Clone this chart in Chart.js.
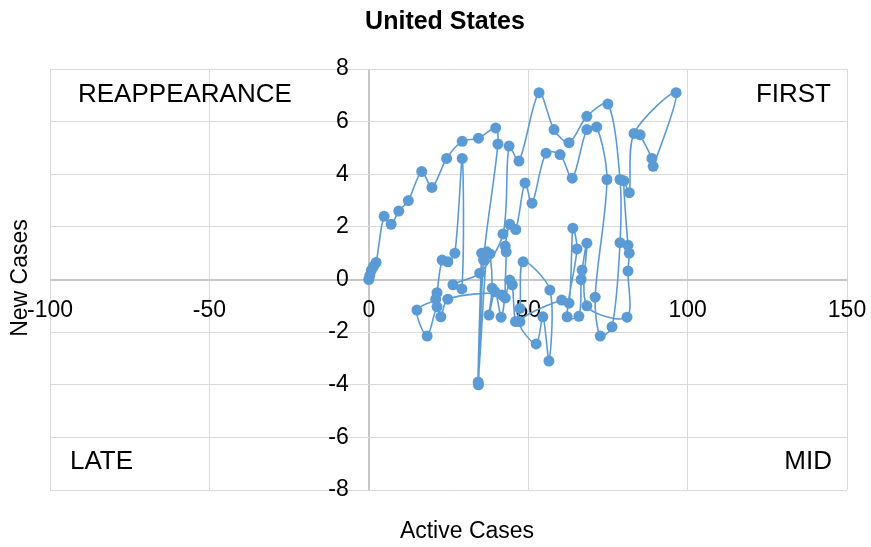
<!DOCTYPE html>
<html>
<head>
<meta charset="utf-8">
<title>United States</title>
<script src="https://cdn.jsdelivr.net/npm/chart.js@4.4.0/dist/chart.umd.min.js"></script>
<style>
  html, body { margin: 0; padding: 0; background: #fff; }
  #wrap { width: 871px; height: 547px; position: relative; }
</style>
</head>
<body>
<div id="wrap"><canvas id="chart"></canvas></div>
<script>
// trajectory, in the order the points are joined
const activeCases = [
  0, 0.3, 0.8, 1.5, 2.3, 4.8, 7, 9.4, 12.4, 16.6, 19.8, 24.4, 29.3, 34.4, 39.8, 40.5,
  36, 34.4, 35.4, 34.3, 37, 38, 38.7, 37.7, 39.6, 41.5, 41.8,
  24.8, 22.6, 21.4, 18.3, 15.1, 21, 21.4, 23, 24.8, 27, 29.3, 29.2, 26.4, 34.8,
  42.1, 44, 47.1, 53.4, 58.1, 62.8, 68.4, 75, 78.8, 78.8, 76.3, 72.6, 71, 74.7, 71.5, 68.4,
  63.8, 60, 55.6, 51.2, 49, 46.1, 44.2, 42.8, 43.1, 42.8, 44.2, 45, 46, 47.4, 48.4,
  56.8, 56.5, 54.6, 52.5, 47.4, 60.5, 62.8, 64, 65.3, 62.2, 65.9, 66.6, 66.9, 68.4, 68.4,
  81, 81.3, 81.7, 81.3, 80, 81.7, 83.2, 96.4, 89.2, 88.8, 85.1
];
const newCases = [
  0, 0.15, 0.35, 0.5, 0.65, 2.4, 2.1, 2.6, 3.0, 4.1, 3.5, 4.6, 5.25, 5.37, 5.76, 5.15,
  0.74, -4.0, 1.0, -3.9, 1.05, 0.97, -0.33, -1.35, -0.47, -1.43, -0.59,
  -0.75, -1.42, -1.04, -2.15, -1.16, -0.75, -0.5, 0.74, 0.67, 1.0, 4.6, -0.36, -0.2, 0.24,
  1.73, 5.07, 4.5, 7.1, 5.7, 5.2, 6.2, 6.67, 3.8, 1.4, -1.8, -2.15, -0.67, 3.8, 5.8, 5.7,
  3.85, 4.75, 4.8, 2.9, 3.67, 1.9, 2.1, 1.27, 1.05, -0.7, -0.02, -0.2, -1.6, -1.1, 0.67,
  -0.4, -3.1, -1.42, -2.45, -1.6, -0.78, -0.9, 1.95, 1.16, -1.42, -1.4, 0.0, 0.36, 1.38, -1.0,
  -1.43, 0.32, 1.0, 1.3, 3.75, 3.3, 5.55, 7.1, 4.3, 4.6, 5.5
];

const xTicks = [-100, -50, 0, 50, 100, 150];
const yTicks = [-8, -6, -4, -2, 0, 2, 4, 6, 8];

const quadrantLabels = ['REAPPEARANCE', 'FIRST', 'LATE', 'MID'];

const blue = '#5B9BD5';
const font = "'Liberation Sans', Arial, sans-serif";
const gridGrey = '#D9D9D9';
const axisGrey = '#C6C6C6';

const points = activeCases.map((x, i) => ({ x: x, y: newCases[i] }));

// texts Excel keeps as separate boxes
const textPlugin = {
  id: 'texts',
  afterDraw(chart) {
    const ctx = chart.ctx;
    const a = chart.chartArea;
    ctx.save();
    ctx.fillStyle = '#000';
    ctx.textBaseline = 'middle';

    ctx.font = "bold 25px " + font;
    ctx.textAlign = 'center';
    ctx.fillText('United States', 445, 22);

    ctx.font = "23px " + font;
    ctx.fillText('Active Cases', 467, 532);
    ctx.save();
    ctx.translate(21, 278);
    ctx.rotate(-Math.PI / 2);
    ctx.fillText('New Cases', 0, 0);
    ctx.restore();

    ctx.font = "26px " + font;
    ctx.textAlign = 'left';
    ctx.fillText(quadrantLabels[0], a.left + 28, 95);
    ctx.fillText(quadrantLabels[2], a.left + 20, 462);
    ctx.textAlign = 'right';
    ctx.fillText(quadrantLabels[1], a.right - 16, 95);
    ctx.fillText(quadrantLabels[3], a.right - 15, 462);
    ctx.restore();
  }
};

// the 0 lines of both axes are drawn a bit darker
const gridColor = (c) => c.tick && c.tick.value === 0 ? axisGrey : gridGrey;
const gridWidth = (c) => c.tick && c.tick.value === 0 ? 2 : 1;

const ctx = document.getElementById('chart').getContext('2d');
Chart.defaults.font.family = font;
Chart.defaults.color = '#000';

new Chart(ctx, {
  type: 'scatter',
  data: {
    datasets: [{
      label: 'United States',
      data: points,
      showLine: true,
      tension: 0.3,
      borderColor: blue,
      borderWidth: 1.6,
      backgroundColor: blue,
      pointBackgroundColor: blue,
      pointBorderColor: blue,
      pointRadius: 5.5,
      pointBorderWidth: 0
    }]
  },
  options: {
    responsive: true,
    maintainAspectRatio: false,
    animation: false,
    layout: {
      padding: { left: 50, right: 24, top: 69, bottom: 57 }
    },
    scales: {
      x: {
        type: 'linear',
        // labels sit a little under the 0 line
        position: { y: -0.5 },
        min: -100,
        max: 150,
        afterFit: (scale) => { scale.height = 0; },
        afterBuildTicks: (scale) => { scale.ticks = xTicks.map(v => ({ value: v })); },
        ticks: { font: { size: 23 }, padding: 4, autoSkip: false, maxRotation: 0 },
        grid: { color: gridColor, lineWidth: gridWidth, drawTicks: false },
        border: { display: false }
      },
      y: {
        type: 'linear',
        // labels sit a little left of the 0 line
        position: { x: -6.3 },
        min: -8,
        max: 8,
        afterFit: (scale) => { scale.width = 0; },
        afterBuildTicks: (scale) => { scale.ticks = yTicks.map(v => ({ value: v })); },
        ticks: { font: { size: 23 }, autoSkip: false },
        grid: { color: gridColor, lineWidth: gridWidth, drawTicks: false },
        border: { display: false }
      }
    },
    plugins: {
      legend: { display: false },
      tooltip: { enabled: false },
      title: { display: false }
    }
  },
  plugins: [textPlugin]
});
</script>
</body>
</html>
